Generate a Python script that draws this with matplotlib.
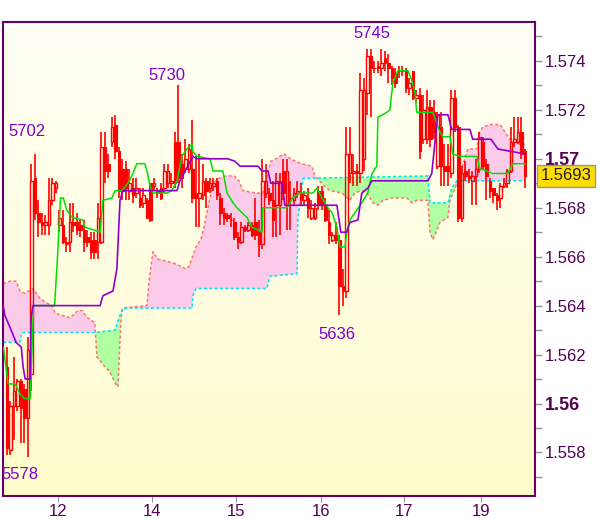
import numpy as np
import matplotlib.pyplot as plt
from matplotlib.ticker import MultipleLocator
from matplotlib.transforms import blended_transform_factory

plt.rcParams['font.family'] = ['Liberation Sans', 'DejaVu Sans']

# hourly candles (bar index 0..148)
opens = [1.5615, 1.5581, 1.5599, 1.5599, 1.5609, 1.5606, 1.5594, 1.5612, 1.5692, 1.5678,
         1.5674, 1.5673, 1.5673, 1.5683, 1.5688, 1.5673, 1.5673, 1.5666, 1.5666, 1.5674,
         1.5674, 1.5673, 1.5671, 1.5668, 1.5667, 1.5667, 1.5666, 1.5666, 1.5705, 1.5698,
         1.5707, 1.5714, 1.5703, 1.5696, 1.5696, 1.5687, 1.5688, 1.5686, 1.5684, 1.5682,
         1.5683, 1.5690, 1.5689, 1.5687, 1.5688, 1.5688, 1.5690, 1.5690, 1.5707, 1.5707,
         1.5698, 1.5696, 1.5696, 1.5696, 1.5686, 1.5684, 1.5685, 1.5691, 1.5688, 1.5689,
         1.5691, 1.5684, 1.5678, 1.5677, 1.5675, 1.5674, 1.5668, 1.5666, 1.5672, 1.5671,
         1.5673, 1.5674, 1.5670, 1.5665, 1.5686, 1.5686, 1.5683, 1.5681, 1.5681, 1.5695,
         1.5681, 1.5684, 1.5683, 1.5686, 1.5686, 1.5683, 1.5684, 1.5676, 1.5676, 1.5687,
         1.5687, 1.5681, 1.5674, 1.5667, 1.5669, 1.5667, 1.5648, 1.5646, 1.5694, 1.5694,
         1.5695, 1.5694, 1.5700, 1.5727, 1.5742, 1.5737, 1.5738, 1.5737, 1.5741, 1.5739,
         1.5737, 1.5735, 1.5736, 1.5736, 1.5736, 1.5729, 1.5736, 1.5725, 1.5726, 1.5708,
         1.5708, 1.5721, 1.5719, 1.5697, 1.5713, 1.5697, 1.5697, 1.5694, 1.5725, 1.5713,
         1.5676, 1.5695, 1.5693, 1.5691, 1.5693, 1.5696, 1.5707, 1.5698, 1.5691, 1.5688,
         1.5685, 1.5684, 1.5689, 1.5690, 1.5695, 1.5707, 1.5707, 1.5711, 1.5703]
highs = [1.5623, 1.5601, 1.5619, 1.5610, 1.5610, 1.5608, 1.5627, 1.5698, 1.5702, 1.5683,
         1.5678, 1.5677, 1.5692, 1.5692, 1.5691, 1.5679, 1.5679, 1.5668, 1.5682, 1.5682,
         1.5678, 1.5675, 1.5675, 1.5671, 1.5670, 1.5670, 1.5682, 1.5711, 1.5711, 1.5702,
         1.5717, 1.5718, 1.5705, 1.5700, 1.5699, 1.5696, 1.5692, 1.5692, 1.5688, 1.5688,
         1.5684, 1.5690, 1.5692, 1.5688, 1.5690, 1.5698, 1.5698, 1.5694, 1.5711, 1.5730,
         1.5702, 1.5708, 1.5706, 1.5716, 1.5701, 1.5702, 1.5698, 1.5692, 1.5692, 1.5692,
         1.5692, 1.5686, 1.5680, 1.5678, 1.5678, 1.5676, 1.5670, 1.5674, 1.5673, 1.5674,
         1.5674, 1.5684, 1.5675, 1.5700, 1.5698, 1.5688, 1.5691, 1.5694, 1.5694, 1.5700,
         1.5700, 1.5691, 1.5688, 1.5691, 1.5690, 1.5687, 1.5688, 1.5683, 1.5682, 1.5689,
         1.5689, 1.5684, 1.5679, 1.5670, 1.5674, 1.5669, 1.5655, 1.5713, 1.5713, 1.5702,
         1.5698, 1.5735, 1.5733, 1.5745, 1.5745, 1.5740, 1.5740, 1.5745, 1.5744, 1.5743,
         1.5738, 1.5737, 1.5738, 1.5738, 1.5737, 1.5733, 1.5736, 1.5728, 1.5729, 1.5726,
         1.5728, 1.5724, 1.5724, 1.5719, 1.5719, 1.5706, 1.5706, 1.5728, 1.5728, 1.5714,
         1.5697, 1.5699, 1.5696, 1.5695, 1.5700, 1.5711, 1.5709, 1.5700, 1.5692, 1.5688,
         1.5686, 1.5690, 1.5692, 1.5696, 1.5713, 1.5717, 1.5717, 1.5717, 1.5704]
lows = [1.5579, 1.5579, 1.5585, 1.5597, 1.5584, 1.5584, 1.5578, 1.5605, 1.5675, 1.5668,
        1.5669, 1.5669, 1.5669, 1.5681, 1.5686, 1.5670, 1.5665, 1.5662, 1.5662, 1.5670,
        1.5669, 1.5668, 1.5662, 1.5664, 1.5659, 1.5659, 1.5659, 1.5665, 1.5690, 1.5692,
        1.5705, 1.5700, 1.5684, 1.5683, 1.5683, 1.5683, 1.5682, 1.5684, 1.5680, 1.5680,
        1.5676, 1.5674, 1.5687, 1.5684, 1.5683, 1.5686, 1.5688, 1.5688, 1.5688, 1.5690,
        1.5688, 1.5694, 1.5694, 1.5682, 1.5672, 1.5672, 1.5683, 1.5680, 1.5686, 1.5687,
        1.5683, 1.5673, 1.5673, 1.5674, 1.5672, 1.5667, 1.5663, 1.5665, 1.5670, 1.5670,
        1.5668, 1.5667, 1.5660, 1.5663, 1.5684, 1.5681, 1.5668, 1.5668, 1.5669, 1.5683,
        1.5671, 1.5671, 1.5681, 1.5684, 1.5681, 1.5681, 1.5676, 1.5675, 1.5675, 1.5679,
        1.5679, 1.5674, 1.5665, 1.5666, 1.5665, 1.5636, 1.5640, 1.5643, 1.5690, 1.5689,
        1.5689, 1.5690, 1.5695, 1.5718, 1.5717, 1.5735, 1.5735, 1.5734, 1.5736, 1.5731,
        1.5730, 1.5729, 1.5733, 1.5734, 1.5727, 1.5726, 1.5724, 1.5723, 1.5700, 1.5706,
        1.5706, 1.5705, 1.5708, 1.5696, 1.5689, 1.5689, 1.5689, 1.5692, 1.5711, 1.5674,
        1.5674, 1.5691, 1.5690, 1.5681, 1.5681, 1.5694, 1.5696, 1.5683, 1.5684, 1.5682,
        1.5679, 1.5680, 1.5688, 1.5688, 1.5694, 1.5705, 1.5706, 1.5700, 1.5688]
closes = [1.5582, 1.5599, 1.5605, 1.5609, 1.5598, 1.5594, 1.5622, 1.5691, 1.5678, 1.5674,
          1.5673, 1.5674, 1.5683, 1.5690, 1.5690, 1.5676, 1.5666, 1.5665, 1.5674, 1.5673,
          1.5671, 1.5671, 1.5666, 1.5666, 1.5662, 1.5662, 1.5676, 1.5705, 1.5695, 1.5695,
          1.5713, 1.5703, 1.5687, 1.5687, 1.5688, 1.5690, 1.5685, 1.5688, 1.5681, 1.5685,
          1.5676, 1.5675, 1.5690, 1.5686, 1.5684, 1.5695, 1.5695, 1.5691, 1.5690, 1.5692,
          1.5692, 1.5700, 1.5704, 1.5684, 1.5684, 1.5686, 1.5691, 1.5687, 1.5690, 1.5690,
          1.5685, 1.5678, 1.5676, 1.5676, 1.5675, 1.5668, 1.5666, 1.5672, 1.5671, 1.5673,
          1.5669, 1.5669, 1.5665, 1.5691, 1.5691, 1.5683, 1.5675, 1.5691, 1.5691, 1.5686,
          1.5695, 1.5684, 1.5686, 1.5687, 1.5683, 1.5685, 1.5680, 1.5680, 1.5680, 1.5681,
          1.5681, 1.5675, 1.5669, 1.5669, 1.5667, 1.5648, 1.5646, 1.5702, 1.5702, 1.5695,
          1.5694, 1.5728, 1.5728, 1.5742, 1.5737, 1.5737, 1.5737, 1.5739, 1.5739, 1.5737,
          1.5733, 1.5731, 1.5736, 1.5736, 1.5729, 1.5731, 1.5725, 1.5726, 1.5703, 1.5720,
          1.5721, 1.5708, 1.5711, 1.5718, 1.5697, 1.5695, 1.5695, 1.5725, 1.5713, 1.5676,
          1.5694, 1.5693, 1.5692, 1.5693, 1.5696, 1.5709, 1.5697, 1.5693, 1.5687, 1.5685,
          1.5683, 1.5689, 1.5690, 1.5695, 1.5707, 1.5708, 1.5711, 1.5702, 1.5693]

# indicator lines, as (bar index, price) vertices
tenkan_t = [-1, 0.3, 2.3, 3.7, 5, 6.6, 7.2, 7.6, 13.6, 14.4, 15.3, 16.1, 17.1, 18.7, 21.7,
            22.3, 24.6, 26.6, 27.4, 30, 30.9, 32.9, 35, 36, 37.1, 39.4, 40, 40.9, 41.7,
            43.1, 45.7, 47.1, 48.6, 50, 51.4, 52.9, 53.1, 54.3, 58, 58.9, 61.7, 62.9, 64.6,
            65.7, 68.6, 70, 71.7, 72.9, 73.1, 80, 81.7, 83.7, 87.4, 88.6, 90, 91.7, 92.9,
            94.3, 95.1, 96.6, 97.1, 98, 101.4, 103.1, 104.3, 105.7, 106, 108.6, 109.4,
            110.3, 111.7, 114.6, 115.7, 116.6, 117.1, 121.7, 123.7, 124.6, 126.6, 127.4,
            129.4, 134.3, 135.1, 137.1, 138.6, 143.1, 144.6, 148]
tenkan_p = [1.5623, 1.5608, 1.5608, 1.5604, 1.5602, 1.5602, 1.5625, 1.5640, 1.5640, 1.5659,
            1.5684, 1.5684, 1.5679, 1.5676, 1.5675, 1.5672, 1.5671, 1.5670, 1.5683, 1.5684,
            1.5687, 1.5687, 1.5691, 1.5694, 1.5698, 1.5698, 1.5695, 1.5689, 1.5686, 1.5686,
            1.5686, 1.5687, 1.5691, 1.5701, 1.5704, 1.5706, 1.5703, 1.5701, 1.5700, 1.5695,
            1.5695, 1.5686, 1.5682, 1.5680, 1.5676, 1.5672, 1.5671, 1.5670, 1.5680, 1.5680,
            1.5684, 1.5686, 1.5686, 1.5688, 1.5684, 1.5680, 1.5678, 1.5672, 1.5664, 1.5664,
            1.5670, 1.5675, 1.5682, 1.5686, 1.5694, 1.5697, 1.5717, 1.5719, 1.5720, 1.5731,
            1.5736, 1.5736, 1.5732, 1.5727, 1.5719, 1.5719, 1.5711, 1.5709, 1.5709, 1.5702,
            1.5701, 1.5701, 1.5696, 1.5695, 1.5694, 1.5694, 1.5698, 1.5698]

kijun_t = [-1.1, -0.6, 0.9, 2.6, 4.1, 4.6, 5.2, 6.6, 6.9, 7.4, 26.6, 27.4, 30.3, 31.4, 32.3,
           33.1, 48.6, 49.4, 50.9, 51.7, 53.1, 54.3, 63.1, 65.1, 66.6, 71.7, 72.9, 74.6,
           75.4, 78.6, 79.4, 94.3, 94.6, 95.4, 97.1, 98, 100.3, 101.4, 103.1, 104.3, 120.3,
           121.4, 123.1, 126, 127.1, 132.3, 133.1, 138.3, 140.3, 148]
kijun_p = [1.5640, 1.5636, 1.5631, 1.5625, 1.5623, 1.5615, 1.5610, 1.5610, 1.5635, 1.5640,
           1.5640, 1.5644, 1.5646, 1.5655, 1.5683, 1.5687, 1.5687, 1.5691, 1.5695, 1.5697,
           1.5701, 1.5700, 1.5700, 1.5699, 1.5697, 1.5697, 1.5695, 1.5695, 1.5690, 1.5690,
           1.5681, 1.5681, 1.5678, 1.5670, 1.5670, 1.5674, 1.5675, 1.5686, 1.5688, 1.5691,
           1.5691, 1.5694, 1.5718, 1.5718, 1.5712, 1.5712, 1.5708, 1.5708, 1.5704, 1.5702]

span_a_t = [-1.1, 0.9, 2.6, 3.7, 5.1, 7.4, 9.4, 11.4, 12.9, 13.7, 15.7, 18, 20.3, 21.4, 23.1,
            25.1, 25.7, 27.4, 29.4, 31.4, 31.7, 32.6, 33.1, 40, 40.6, 41.7, 43.1, 46, 48.3,
            51.1, 52, 54, 55.4, 56.3, 57.4, 58.9, 60.6, 62.6, 64.9, 66.3, 67.4, 71.1, 73.1,
            75.4, 76.9, 79.1, 81, 84, 87.1, 88, 90.6, 92.3, 95.7, 98, 99.4, 101.4, 102.9,
            104.6, 106, 107.4, 110, 114.3, 115.7, 117.1, 120.3, 120.9, 121.7, 122.9, 123.7,
            126, 126.6, 128.6, 131.7, 134.3, 135.1, 136, 138, 140.9, 142.3, 143.7, 145.1, 148]
span_a_p = [1.5649, 1.5650, 1.5650, 1.5646, 1.5645, 1.5647, 1.5643, 1.5641, 1.5640, 1.5637,
            1.5636, 1.5635, 1.5638, 1.5638, 1.5635, 1.5633, 1.5619, 1.5616, 1.5613, 1.5607,
            1.5607, 1.5635, 1.5639, 1.5640, 1.5650, 1.5662, 1.5659, 1.5658, 1.5657, 1.5655,
            1.5656, 1.5664, 1.5667, 1.5672, 1.5680, 1.5690, 1.5692, 1.5693, 1.5693, 1.5691,
            1.5687, 1.5686, 1.5686, 1.5699, 1.5700, 1.5702, 1.5700, 1.5698, 1.5697, 1.5693,
            1.5689, 1.5687, 1.5686, 1.5683, 1.5686, 1.5687, 1.5686, 1.5682, 1.5681, 1.5683,
            1.5684, 1.5684, 1.5682, 1.5683, 1.5683, 1.5670, 1.5667, 1.5671, 1.5674, 1.5676,
            1.5683, 1.5690, 1.5704, 1.5704, 1.5711, 1.5713, 1.5714, 1.5714, 1.5711, 1.5708,
            1.5706, 1.5706]

span_b_t = [-1.1, 3.6, 4.3, 25.1, 30.9, 32, 33.1, 52.9, 53.1, 54, 74.3, 75.1, 82.9, 83.1,
            84.6, 120.3, 120.9, 126, 127.1, 128.6, 130.3, 148]
span_b_p = [1.5625, 1.5625, 1.5629, 1.5629, 1.5630, 1.5635, 1.5639, 1.5639, 1.5644, 1.5647,
            1.5647, 1.5652, 1.5653, 1.5675, 1.5692, 1.5693, 1.5682, 1.5682, 1.5688, 1.5691,
            1.5691, 1.5691]

day_pos = [14.7, 41.5, 65.4, 89.6, 113.5, 135.6]
day_labels = ['12', '14', '15', '16', '17', '19']

extreme_text = ['5702', '5730', '5745', '5636', '5578']
extreme_at = [(5.7, 1.5711), (45.7, 1.5734), (104.3, 1.5751), (94.3, 1.5628), (3.7, 1.5571)]

last_price = closes[-1]

fig = plt.figure(figsize=(6, 5.19), dpi=100)
ax = fig.add_axes([3 / 600, 23 / 519, 532 / 600, 474 / 519])
ax.set_xlim(-1.14, 150.9)
ax.set_ylim(1.55622, 1.57559)

# pale yellow background, lighter at the top
grad = np.linspace(0, 1, 256).reshape(-1, 1)
top = np.array([1.0, 1.0, 0.965])
bot = np.array([1.0, 0.99, 0.80])
img = top + (bot - top) * grad[:, :, None]
ax.imshow(img, extent=[0, 1, 0, 1], transform=ax.transAxes, aspect='auto', zorder=0)

# cloud
grid = np.union1d(span_a_t, span_b_t)
a = np.interp(grid, span_a_t, span_a_p)
b = np.interp(grid, span_b_t, span_b_p)
ax.fill_between(grid, a, b, where=a >= b, interpolate=True, color='#fccbea', lw=0, zorder=1)
ax.fill_between(grid, a, b, where=a < b, interpolate=True, color='#b0ffa0', lw=0, zorder=1)
ax.plot(span_a_t, span_a_p, color='#ff7272', lw=1.1, dashes=(2, 1.5), zorder=2)
ax.plot(span_b_t, span_b_p, color='#00e4f4', lw=1.1, dashes=(2, 1.5), zorder=2)

# candles
o = np.array(opens)
h = np.array(highs)
l = np.array(lows)
c = np.array(closes)
x = np.arange(len(o))
top_b = np.maximum(o, c)
bot_b = np.minimum(o, c)
ax.vlines(x, top_b, h, color='red', lw=1.2, zorder=3)
ax.vlines(x, l, bot_b, color='red', lw=1.2, zorder=3)
down = c < o
ax.bar(x[down], (top_b - bot_b)[down], bottom=bot_b[down], width=0.72,
       color='red', edgecolor='red', lw=0.8, zorder=3)
ax.bar(x[~down], np.maximum(top_b - bot_b, 0.000005)[~down], bottom=bot_b[~down], width=0.72,
       fill=False, edgecolor='red', lw=1.0, zorder=3)

ax.plot(tenkan_t, tenkan_p, color='#00e000', lw=1.1, zorder=4)
ax.plot(kijun_t, kijun_p, color='#9000cc', lw=1.2, zorder=4)

for txt, (tx, ty) in zip(extreme_text, extreme_at):
    ax.text(tx, ty, txt, color='#8000d0', fontsize=12, ha='center', va='center', zorder=5)

# axes styling
for s in ax.spines.values():
    s.set_color('#660066')
    s.set_linewidth(1.5)

ax.yaxis.tick_right()
yt = [1.558, 1.560, 1.562, 1.564, 1.566, 1.568, 1.570, 1.572, 1.574]
ax.set_yticks(yt, [f'{v:.3f}'.rstrip('0') for v in yt])
ax.yaxis.set_minor_locator(MultipleLocator(0.001))
ax.tick_params(axis='y', which='both', direction='out', colors='#8899aa',
               labelcolor='#550055', labelsize=12, pad=2)
ax.tick_params(axis='y', which='major', length=5, width=1)
ax.tick_params(axis='y', which='minor', length=5, width=1)
for lab in ax.get_yticklabels():
    if lab.get_text() in ('1.57', '1.56'):
        lab.set_fontweight('bold')
        lab.set_fontsize(13)

ax.set_xticks(day_pos, day_labels)
ax.tick_params(axis='x', direction='out', length=4, colors='#8899aa',
               labelcolor='#550055', labelsize=12, pad=2)

tr = blended_transform_factory(ax.transAxes, ax.transData)
ax.text(1.01, last_price, f'{last_price:.4f}', transform=tr, ha='left', va='center',
        fontsize=12, color='#222222', clip_on=False,
        bbox=dict(boxstyle='square,pad=0.2', fc='#ffdd00', ec='#8899aa', lw=1))

fig.savefig('out.png', dpi=100)
